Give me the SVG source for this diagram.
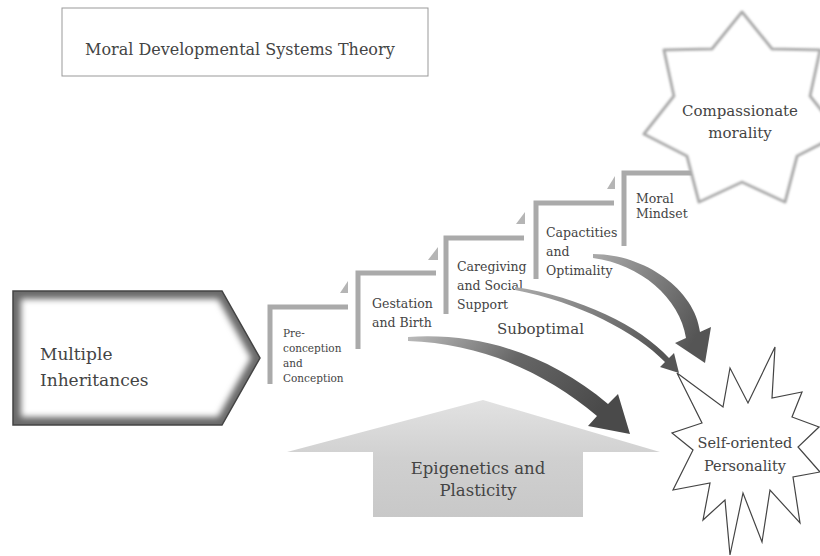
<svg xmlns="http://www.w3.org/2000/svg" width="820" height="556" viewBox="0 0 820 556">
<defs>
<style>
text{font-family:"DejaVu Serif","Liberation Serif",serif;fill:#444}
.br{fill:none;stroke:#aaa;stroke-width:5}
.tri{fill:#b5b5b5}
.arrow{stroke:none}
</style>
<filter id="soft" x="-10%" y="-10%" width="120%" height="120%"><feGaussianBlur stdDeviation="3"/></filter>
<filter id="soft1" x="-10%" y="-10%" width="120%" height="120%"><feGaussianBlur stdDeviation="0.8"/></filter>
<linearGradient id="g1" x1="0" y1="0" x2="1" y2="0.4"><stop offset="0" stop-color="#bbb"/><stop offset="0.5" stop-color="#666"/><stop offset="1" stop-color="#4a4a4a"/></linearGradient>
<linearGradient id="g2" x1="0" y1="0" x2="1" y2="0.5"><stop offset="0" stop-color="#aaa"/><stop offset="1" stop-color="#555"/></linearGradient>
<linearGradient id="g3" x1="0" y1="0" x2="0" y2="1"><stop offset="0" stop-color="#e2e2e2"/><stop offset="0.5" stop-color="#d0d0d0"/><stop offset="1" stop-color="#c8c8c8"/></linearGradient>
</defs>

<g id="title">
<rect x="62" y="8" width="366" height="68" fill="#fff" stroke="#999" stroke-width="1"/>
<text x="85" y="55" font-size="16">Moral Developmental Systems Theory</text>
</g>

<g id="multiple-inheritances">
<polygon points="13,291 222,291 260,358 222,425 13,425" fill="#6a6a6a"/>
<polygon points="21,299 218,299 251,358 218,417 21,417" fill="#fff" filter="url(#soft)"/>
<polygon points="13,291 222,291 260,358 222,425 13,425" fill="none" stroke="#444" stroke-width="1.5"/>
<text x="40" y="360" font-size="17">Multiple</text>
<text x="40" y="386" font-size="17">Inheritances</text>
</g>

<g id="epigenetics">
<polygon points="483,400 660,452 583,452 583,517 373,517 373,452 287,452" fill="url(#g3)"/>
<text x="478" y="474" font-size="16.5" text-anchor="middle">Epigenetics and</text>
<text x="478" y="496" font-size="16.5" text-anchor="middle">Plasticity</text>
</g>

<g id="step1">
<polyline class="br" points="270,384 270,307 348,307"/>
<polygon class="tri" points="348,281 348,293 340,293"/>
<text x="283" y="337" font-size="10.5">Pre-</text>
<text x="283" y="352" font-size="10.5">conception</text>
<text x="283" y="367" font-size="10.5">and</text>
<text x="283" y="382" font-size="10.5">Conception</text>
</g>

<g id="step2">
<polyline class="br" points="358,349 358,273 436,273"/>
<polygon class="tri" points="438,247 438,260 428,260"/>
<text x="372" y="308" font-size="12.5">Gestation</text>
<text x="372" y="327" font-size="12.5">and Birth</text>
</g>

<g id="step3">
<polyline class="br" points="446,314 446,238 524,238"/>
<polygon class="tri" points="525,212 525,224 516,224"/>
<text x="457" y="271" font-size="12.5">Caregiving</text>
<text x="457" y="290" font-size="12.5">and Social</text>
<text x="457" y="309" font-size="12.5">Support</text>
</g>

<g id="step4">
<polyline class="br" points="536,279 536,203 614,203"/>
<polygon class="tri" points="615,176 615,189 607,189"/>
<text x="546" y="237" font-size="12.5">Capactities</text>
<text x="546" y="256" font-size="12.5">and</text>
<text x="546" y="275" font-size="12.5">Optimality</text>
</g>

<g id="step5">
<polyline class="br" points="624,246 624,173 700,173"/>
<text x="636" y="203" font-size="12.5">Moral</text>
<text x="636" y="218" font-size="12.5">Mindset</text>
</g>

<g id="connectors">
<path class="arrow" fill="url(#g1)" d="M408,337 C480,332 550,355 608,404 L618,394 L630,434 L588,426 L597,416 C545,372 480,343 408,341 Z"/>
<path class="arrow" fill="url(#g2)" d="M515,287 C580,297 640,326 669,358 L674,353 L679,373 L660,367 L665,362 C636,332 578,302 515,290 Z"/>
<path class="arrow" fill="url(#g2)" d="M593,254 C645,254 695,290 700,332 L711,327 L705,363 L675,343 L686,338 C680,298 640,264 593,258 Z"/>
<text x="497" y="334" font-size="15">Suboptimal</text>
</g>

<g id="compassionate-morality">
<polygon points="742,12 772,49 820,50 810,96 840,134 797,156 785,202 742,182 699,202 687,156 644,134 674,96 664,50 712,49" fill="#fff" stroke="#aaa" stroke-width="3" stroke-linejoin="round" filter="url(#soft1)"/>
<text x="740" y="116" font-size="15" text-anchor="middle">Compassionate</text>
<text x="740" y="138" font-size="15" text-anchor="middle">morality</text>
</g>

<g id="self-oriented-personality">
<polygon points="677,373 723,407 730,368 748,403 775,347 772,398 802,392 792,417 819,427 798,447 820,472 793,477 800,523 770,490 762,542 743,493 730,555 725,500 703,520 710,483 673,490 693,450 672,433 702,423" fill="#fff" stroke="#444" stroke-width="1.2"/>
<text x="745" y="448" font-size="14.5" text-anchor="middle">Self-oriented</text>
<text x="745" y="471" font-size="14.5" text-anchor="middle">Personality</text>
</g>
</svg>
